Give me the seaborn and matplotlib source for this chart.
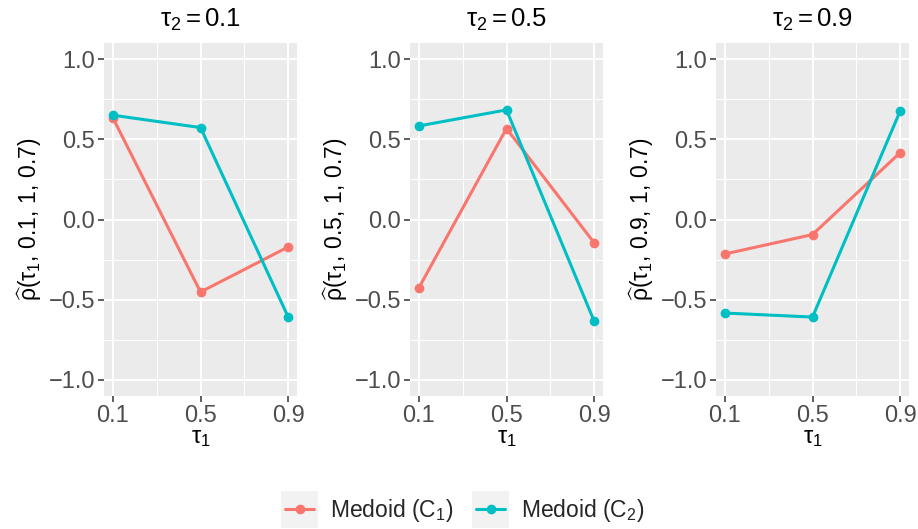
import matplotlib
matplotlib.use('Agg')
import matplotlib.pyplot as plt
from matplotlib.legend_handler import HandlerLine2D
from matplotlib.patches import Rectangle
from matplotlib.ticker import FixedLocator
import numpy as np
import pandas as pd
import seaborn as sns

# Данные
tau1 = [0.1, 0.5, 0.9]
tau2_levels = ['0.1', '0.5', '0.9']
c1_tau2_01 = [0.635, -0.452, -0.171]
c2_tau2_01 = [0.650, 0.573, -0.608]
c1_tau2_05 = [-0.427, 0.567, -0.146]
c2_tau2_05 = [0.583, 0.683, -0.635]
c1_tau2_09 = [-0.215, -0.094, 0.417]
c2_tau2_09 = [-0.583, -0.608, 0.677]
series_names = ['Medoid (C$_1$)', 'Medoid (C$_2$)']
colors = ['#F8766D', '#00BFC4']

rows = []
for lvl, c1, c2 in zip(tau2_levels,
                       [c1_tau2_01, c1_tau2_05, c1_tau2_09],
                       [c2_tau2_01, c2_tau2_05, c2_tau2_09]):
    for name, vals in zip(series_names, [c1, c2]):
        for t, v in zip(tau1, vals):
            rows.append({'tau2': lvl, 'tau1': t, 'rho': v, 'series': name})
df = pd.DataFrame(rows)

sns.set_theme(style='darkgrid')
plt.rcParams['font.family'] = ['Liberation Sans', 'DejaVu Sans']
plt.rcParams['mathtext.fontset'] = 'custom'
plt.rcParams['mathtext.rm'] = 'Liberation Sans'
plt.rcParams['mathtext.it'] = 'Liberation Sans'
plt.rcParams['mathtext.bf'] = 'Liberation Sans:bold'
plt.rcParams['axes.unicode_minus'] = True

fig = plt.figure(figsize=(9.18, 5.29), dpi=100)
lefts = [104, 410, 716]
width = 193
bottom_px, top_px = 396, 43
W, H = 918, 529

for i, lvl in enumerate(tau2_levels):
    ax = fig.add_axes([lefts[i] / W, 1 - bottom_px / H, width / W, (bottom_px - top_px) / H])
    ax.set_facecolor('#EBEBEB')
    sub = df[df['tau2'] == lvl]
    sns.lineplot(data=sub, x='tau1', y='rho', hue='series', palette=colors,
                 hue_order=series_names, marker='o', markersize=7,
                 markeredgewidth=0, linewidth=2.2, ax=ax, legend=(i == 0))
    ax.set_xlim(0.06, 0.94)
    ax.set_ylim(-1.1, 1.1)
    ax.xaxis.set_major_locator(FixedLocator([0.1, 0.5, 0.9]))
    ax.xaxis.set_minor_locator(FixedLocator([0.3, 0.7]))
    ax.yaxis.set_major_locator(FixedLocator([-1.0, -0.5, 0.0, 0.5, 1.0]))
    ax.yaxis.set_minor_locator(FixedLocator([-0.75, -0.25, 0.25, 0.75]))
    ax.set_xticklabels(['0.1', '0.5', '0.9'])
    ax.set_yticklabels(['\u22121.0', '\u22120.5', '0.0', '0.5', '1.0'])
    ax.grid(which='major', color='white', linewidth=1.4)
    ax.grid(which='minor', color='white', linewidth=0.7)
    ax.tick_params(which='major', length=4.5, width=1.1, color='#333333',
                   labelsize=17, labelcolor='#4D4D4D', pad=2, bottom=True, left=True)
    ax.tick_params(which='minor', length=0)
    for s in ax.spines.values():
        s.set_visible(False)
    ax.set_xlabel(r'$\tau_1$', fontsize=17, color='black', labelpad=0)
    ax.set_ylabel(r'$\widehat{\rho}(\tau_1,\, %s,\, 1,\, 0.7)$' % lvl,
                  fontsize=16.5, color='black', labelpad=3)
    ax.set_title(r'$\tau_2 = %s$' % lvl, fontsize=18.5, color='black', pad=12)
    if i == 0:
        handles, labels = ax.get_legend_handles_labels()
        ax.get_legend().remove()


class KeyBg(HandlerLine2D):
    def create_artists(self, legend, orig_handle, xdescent, ydescent,
                       width, height, fontsize, trans):
        arts = super().create_artists(legend, orig_handle, xdescent, ydescent,
                                      width, height, fontsize, trans)
        side = width + 6
        cy = -ydescent + height / 2
        rect = Rectangle((-xdescent - 3, cy - side / 2), side, side,
                         facecolor='#F2F2F2', edgecolor='none', transform=trans)
        return [rect] + list(arts)


fig.legend(handles, labels, loc='center', bbox_to_anchor=(465 / W, 1 - 511 / H),
           ncol=2, frameon=False, fontsize=16.5, handlelength=1.25,
           handletextpad=0.7, columnspacing=1.0,
           handler_map={h: KeyBg() for h in handles})

fig.savefig('out.png', dpi=100)
